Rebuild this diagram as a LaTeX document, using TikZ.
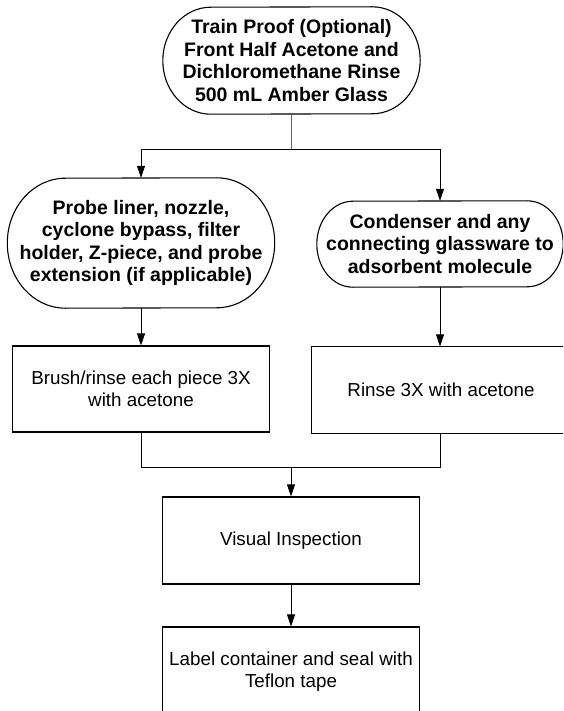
\documentclass[tikz,border=0pt]{standalone}
\usepackage{fontspec}
\setmainfont{Liberation Sans}
\usetikzlibrary{arrows.meta}
\newcommand\bfnt{\fontsize{19.5}{22.5}\selectfont\bfseries}
\newcommand\rgfnt{\fontsize{18.8}{22}\selectfont}
\newcommand\stadborder[3]{%
  \draw[line width=1.1pt] ([xshift=-#2]#1.north east) arc[start angle=90,end angle=-90,x radius=#2,y radius=#3]
    -- ([xshift=#2]#1.south west) arc[start angle=270,end angle=90,x radius=#2,y radius=#3] -- cycle;}
\tikzset{
  stad/.style={inner sep=0pt, align=center, font=\bfnt},
  boxn/.style={draw, line width=1.1pt, minimum width=257pt, minimum height=86pt, inner sep=0pt, align=center, font=\rgfnt},
  arr/.style={-{Triangle[width=8pt,length=12pt]}, line width=0.8pt},
  ln/.style={line width=0.8pt},
}
\begin{document}
\begin{tikzpicture}[x=1pt,y=1pt]
\useasboundingbox (0,0) rectangle (563,-711);
\clip (0,0) rectangle (563,-711);
% top
\node[stad, minimum width=257pt, minimum height=107pt] (t) at (291.5,-60.5)
  {Train Proof (Optional)\\Front Half Acetone and\\Dichloromethane Rinse\\500 mL Amber Glass};
\stadborder{t}{48pt}{53.5pt}
% left rounded
\node[stad, minimum width=267pt, minimum height=130pt] (l) at (141,-243)
  {Probe liner, nozzle,\\cyclone bypass, filter\\holder, Z-piece, and probe\\extension (if applicable)};
\stadborder{l}{58pt}{65pt}
% right rounded
\node[stad, minimum width=246pt, minimum height=86pt] (r) at (440,-244)
  {Condenser and any\\connecting glassware to\\adsorbent molecule};
\stadborder{r}{36pt}{43pt}
% boxes
\node[boxn] (lb) at (141,-389) {Brush/rinse each piece 3X\\with acetone};
\node[boxn, draw=none, minimum width=258pt] (rb) at (441,-390) {Rinse 3X with acetone};
\draw[line width=1.1pt] (rb.north west) rectangle ([xshift=60pt]rb.south east);
\node[boxn, minimum height=87pt] (vis) at (291,-540.5) {Visual Inspection};
\node[boxn, minimum height=90pt] (lab) at (291,-672) {Label container and seal with\\Teflon tape};
% connectors
\coordinate (j1) at (291.5,-149);
\coordinate (j2) at (291,-467);
\draw[line width=0.6pt, black!60] (t.south) -- (j1);
\draw[arr] (j1) -| (l.north);
\draw[arr] (j1) -| (r.north);
\draw[arr] (l.south) -- (lb.north);
\draw[arr] (r.south) -- (r.south |- rb.north);
\draw[ln] (lb.south) |- (j2);
\draw[ln] (r.south |- rb.south) |- (j2);
\draw[arr] (j2) -- (vis.north);
\draw[arr] (vis.south) -- (lab.north);
\end{tikzpicture}
\end{document}
